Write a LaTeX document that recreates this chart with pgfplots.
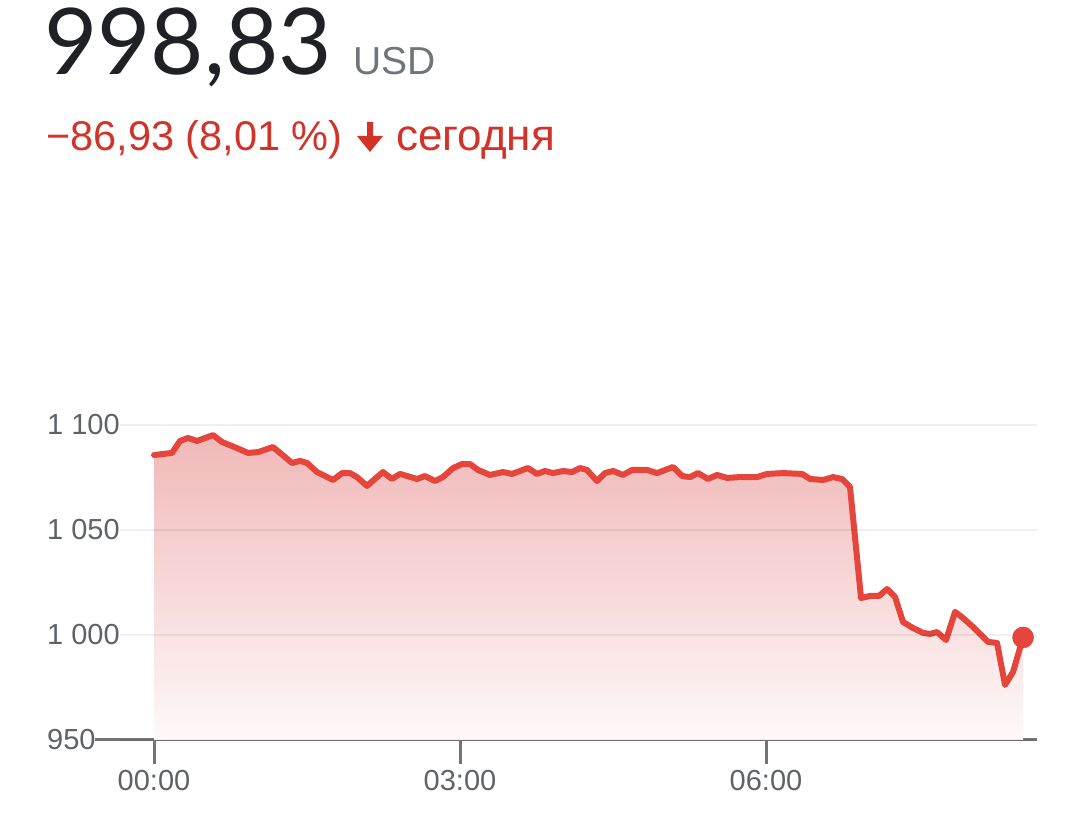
\documentclass[border=0pt]{standalone}
\usepackage{fontspec}
\setmainfont{Liberation Sans}
\newfontfamily\bigfont{Lato}
\usepackage{pgfplots}
\usepackage{pgfplotstable}
\pgfplotsset{compat=1.18}

\definecolor{linered}{RGB}{229,69,58}
\definecolor{txtred}{RGB}{210,50,40}
\definecolor{ticktxt}{RGB}{95,99,104}
\definecolor{axisgray}{RGB}{117,117,117}
\definecolor{filltop}{RGB}{241,184,184}
\definecolor{fillbot}{RGB}{254,249,249}
\definecolor{numblack}{RGB}{32,33,36}
\definecolor{usdgray}{RGB}{112,117,122}

% minutes since 00:00, price in USD
\pgfplotstableread{
t v
0 1085.7
10.6 1086.7
15.3 1092.4
20.0 1093.8
25.3 1092.4
34.7 1095.2
40.0 1091.9
48.8 1089.0
55.3 1086.7
61.2 1087.1
70.0 1089.5
81.2 1081.9
85.9 1082.9
90.0 1081.9
95.9 1077.6
105.3 1073.8
110.6 1077.1
115.3 1077.1
119.4 1075.2
125.3 1071.0
131.2 1075.2
134.7 1077.6
140.0 1074.3
144.7 1076.7
154.7 1074.3
159.4 1075.7
165.3 1073.3
170.0 1075.2
175.9 1079.5
181.2 1081.4
185.9 1081.4
190.6 1078.6
197.6 1076.2
205.3 1077.6
210.6 1076.7
220.0 1079.5
225.3 1076.7
230.0 1078.1
234.7 1077.1
240.6 1078.1
245.9 1077.6
250.6 1079.5
254.7 1078.6
260.6 1073.3
265.3 1077.1
270.0 1078.1
275.9 1076.2
281.2 1078.6
290.0 1078.6
295.9 1077.1
305.3 1080.0
310.6 1075.7
315.3 1075.2
320.0 1077.1
325.9 1074.3
331.2 1076.2
337.1 1074.8
344.7 1075.2
354.7 1075.2
360.6 1076.7
370.0 1077.1
381.2 1076.7
385.9 1074.3
393.5 1073.8
399.4 1075.2
404.7 1074.3
409.4 1070.5
415.9 1017.6
421.2 1018.6
426.5 1018.6
431.2 1021.9
435.9 1018.1
440.6 1006.2
446.5 1003.3
452.4 1001.0
456.5 1000.5
460.6 1001.4
465.9 997.6
471.2 1011.0
475.9 1008.1
481.8 1003.8
490.6 996.7
495.9 996.2
500.6 976.2
505.3 982.4
511.2 998.83
}\prices

\begin{document}
\begin{tikzpicture}[x=1pt,y=1pt]
\path[use as bounding box] (0,0) rectangle (1080,819);

% header
\node[anchor=base west, inner sep=0, text=numblack,
      font=\bigfont\fontsize{92}{92}\selectfont] at (44,744) {998,83};
\node[anchor=base west, inner sep=0, text=usdgray,
      font=\fontsize{39}{39}\selectfont] at (353,744) {USD};
\node[anchor=base west, inner sep=0, text=txtred,
      font=\fontsize{41.5}{41.5}\selectfont] at (46,668) {−86,93 (8,01~\%)};
\fill[txtred] (367,697) -- (373,697) -- (373,683) -- (383,683)
  -- (370,667) -- (357,683) -- (367,683) -- cycle;
\node[anchor=base west, inner sep=0, text=txtred,
      font=\fontsize{44}{44}\selectfont] at (396,668) {сегодня};

% x axis line reaches further left than the grid
\draw[axisgray, line width=3pt] (95,79) -- (1037,79);

\begin{axis}[
    at={(120pt,79pt)}, anchor=south west,
    scale only axis,
    width=917pt, height=315pt,
    xmin=-20, xmax=519.4,
    ymin=950, ymax=1100,
    clip=false,
    axis on top,
    axis line style={draw=none},
    tick pos=left,
    xtick={0,180,360},
    xticklabels={00:00,03:00,06:00},
    ytick={950,1000,1050,1100},
    yticklabels={950,{1 000},{1 050},{1 100}},
    ymajorgrids,
    major grid style={black, opacity=0.06, line width=2pt},
    tick align=outside,
    major tick length=24pt,
    xtick style={axisgray, line width=3pt},
    ytick style={draw=none},
    xticklabel style={anchor=base, yshift=-27pt, text=ticktxt,
      font=\fontsize{29}{29}\selectfont},
    yticklabel style={anchor=west, inner xsep=0pt, xshift=-49pt,
      text=ticktxt, font=\fontsize{29}{29}\selectfont},
]
\addplot[draw=none, top color=filltop, bottom color=fillbot]
  table[x=t, y=v] {\prices} -- (511.2,950) -- (0,950) -- cycle;
\addplot[linered, line width=6pt, line join=round, line cap=round]
  table[x=t, y=v] {\prices};
\addplot[only marks, mark=*, mark size=10.5pt, linered, line width=0.5pt]
  coordinates {(511.2,998.83)};
\end{axis}
\end{tikzpicture}
\end{document}
